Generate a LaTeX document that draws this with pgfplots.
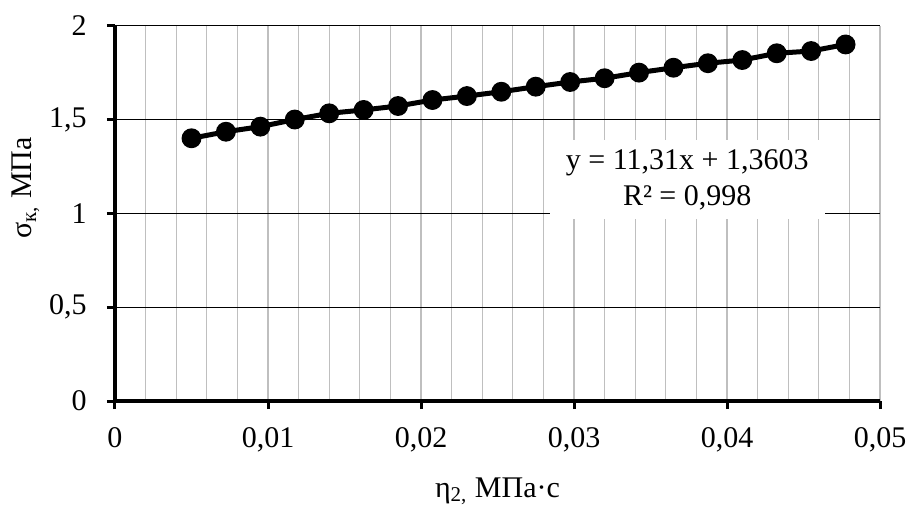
\documentclass[border=0pt]{standalone}
\usepackage{fontspec}
\setmainfont{Liberation Serif}
\usepackage{pgfplots}
\pgfplotsset{compat=1.18}
\newcommand{\lf}{\fontsize{15}{18}\selectfont}
\begin{document}
\begin{tikzpicture}
\begin{axis}[
  at={(0,0)}, anchor=south west,
  scale only axis, width=382.5pt, height=187.65pt,
  xmin=0, xmax=0.05, ymin=0, ymax=2,
  scaled x ticks=false, scaled y ticks=false,
  axis lines*=left,
  axis line style={line width=2pt, black},
  xtick={0,0.01,0.02,0.03,0.04,0.05},
  xticklabels={0,{0,01},{0,02},{0,03},{0,04},{0,05}},
  ytick={0,0.5,1,1.5,2},
  yticklabels={0,{0,5},1,{1,5},2},
  minor x tick num=4,
  xmajorgrids, xminorgrids, ymajorgrids,
  major x grid style={line width=0.6pt, color=black!25},
  minor x grid style={line width=0.6pt, color=black!25},
  major y grid style={line width=0.6pt, color=black},
  tick align=outside,
  major tick length=4pt, minor tick length=0pt,
  major tick style={line width=1.5pt, black},
  xtick pos=bottom, ytick pos=left,
  ticklabel style={font=\lf},
  xticklabel style={inner sep=0pt, anchor=north, yshift=-9pt},
  yticklabel style={inner sep=0pt, anchor=east, xshift=-10pt},
  xlabel={η\textsubscript{2,} МПа·с},
  ylabel={σ\textsubscript{к,} МПа},
  label style={font=\lf},
  xlabel style={at={(axis description cs:0.5,-0.2558)}, anchor=base},
  ylabel style={at={(axis description cs:-0.1089,0.5676)}, anchor=base},
]
\addplot[black, line width=2.5pt, mark=*, mark size=3.7pt] coordinates {
(0.005,1.400) (0.00725,1.435) (0.0095,1.462) (0.01175,1.500) (0.014,1.533)
(0.01625,1.551) (0.0185,1.572) (0.02075,1.604) (0.023,1.625) (0.02525,1.648)
(0.0275,1.675) (0.02975,1.700) (0.032,1.720) (0.03425,1.750) (0.0365,1.776)
(0.03875,1.800) (0.041,1.817) (0.04325,1.853) (0.0455,1.865) (0.04775,1.900)
};
\node[fill=white, minimum width=137.5pt, minimum height=39.5pt, align=center,
      font=\lf, inner sep=0pt] at (axis cs:0.0374,1.18)
      {y = 11,31x + 1,3603\\[0pt]R² = 0,998};
\end{axis}
\pgfresetboundingbox
\path[use as bounding box] (-57.5pt,-51.5pt) rectangle (397pt,200.5pt);
\end{tikzpicture}
\end{document}
